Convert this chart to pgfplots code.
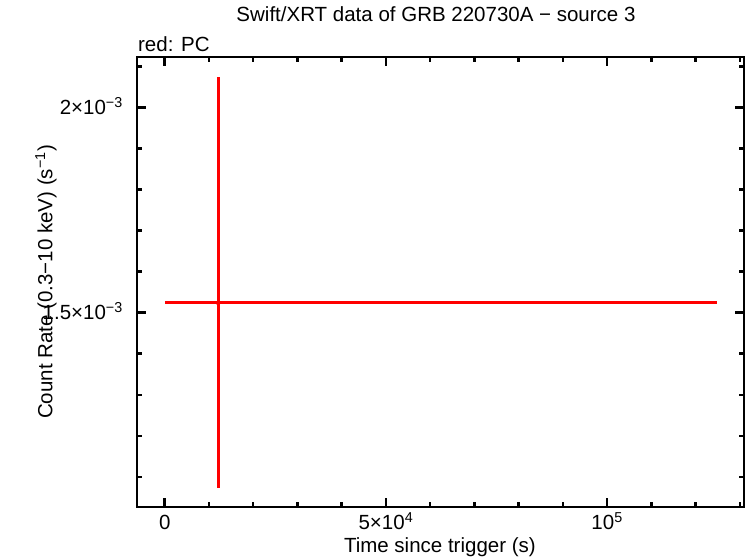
\documentclass[border=0pt]{standalone}
\usepackage{fontspec}
\setmainfont{Liberation Sans}
\usepackage{pgfplots}
\pgfplotsset{compat=1.18}
\begin{document}
\fontsize{20.5bp}{24bp}\selectfont
\begin{tikzpicture}
\useasboundingbox (-137bp,-51bp) rectangle (609bp,507bp);
\begin{axis}[
  scale only axis, width=607bp, height=450bp,
  at={(0,0)}, anchor=south west,
  xmin=-6270, xmax=130950, ymin=0.0010268, ymax=0.0021226,
  axis line style={line width=2.8bp},
  tick style={line width=2.5bp, black},
  major tick length=9bp, minor tick length=5bp,
  tick align=inside, xtick pos=both, ytick pos=both,
  xticklabel pos=left, yticklabel pos=left,
  scaled ticks=false,
  xtick={0,50000,100000},
  xticklabels={0, 5×10\textsuperscript{4}, 10\textsuperscript{5}},
  minor xtick={10000,20000,30000,40000,60000,70000,80000,90000,110000,120000,130000},
  ytick={0.0015,0.002},
  yticklabels={1.5×10\textsuperscript{−3}, 2×10\textsuperscript{−3}},
  minor ytick={0.0011,0.0012,0.0013,0.0014,0.0016,0.0017,0.0018,0.0019,0.0021},
  xticklabel style={anchor=base, inner sep=0pt, yshift=-22.5bp},
  yticklabel style={anchor=base east, inner sep=0pt, xshift=-14bp, yshift=-7.3bp},
  xlabel={Time since trigger (s)},
  xlabel style={at={(axis description cs:0.499,-0.1022)}, anchor=base, inner sep=0pt},
  ylabel={Count Rate (0.3−10 keV) (s\textsuperscript{−1})},
  ylabel style={at={(axis description cs:-0.1392,0.5)}, anchor=base, inner sep=0pt},
  title={Swift/XRT data of GRB 220730A − source 3},
  title style={at={(axis description cs:0.4926,1.0656)}, anchor=base, inner sep=0pt},
  clip=false,
]
\addplot[red, only marks, mark=none,
  error bars/.cd, x dir=both, x explicit, y dir=both, y explicit,
  error bar style={red, line width=3bp}, error mark=none]
  coordinates {(12100,0.0015237) += (112670,0.0005512) -= (11950,0.0004513)};
\node[anchor=base west, inner sep=0pt] at (axis description cs:0.0016,1.0122) {red: PC};
\end{axis}
\end{tikzpicture}
\end{document}
